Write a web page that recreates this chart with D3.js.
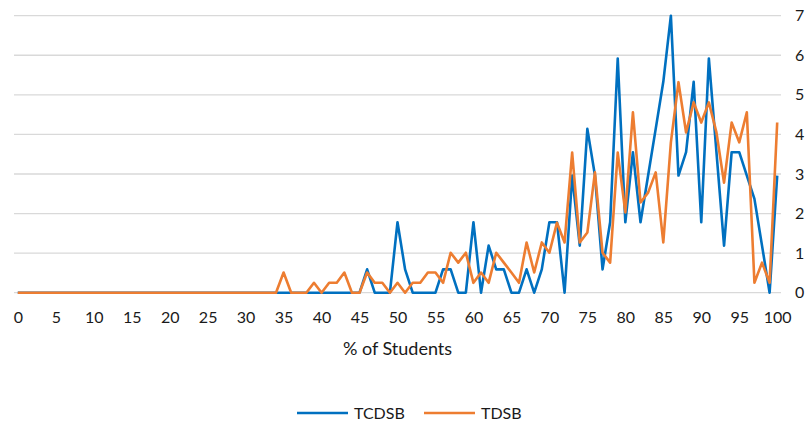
<!DOCTYPE html>
<html>
<head>
<meta charset="utf-8">
<script src="https://cdn.jsdelivr.net/npm/d3@7"></script>
<style>
  body { margin: 0; background: #fff; }
  svg { display: block; font-family: Lato, "Open Sans", sans-serif; }
</style>
</head>
<body>
<div id="chart"></div>
<script>
// categories along the bottom (% of students)
const categories = d3.range(0, 101);
const xTickLabels = [0, 5, 10, 15, 20, 25, 30, 35, 40, 45, 50, 55, 60, 65, 70, 75, 80, 85, 90, 95, 100];
const yTickLabels = [0, 1, 2, 3, 4, 5, 6, 7];

// series values, one per category
const tcdsb = [
  0, 0, 0, 0, 0, 0, 0, 0, 0, 0,
  0, 0, 0, 0, 0, 0, 0, 0, 0, 0,
  0, 0, 0, 0, 0, 0, 0, 0, 0, 0,
  0, 0, 0, 0, 0, 0, 0, 0, 0, 0,
  0, 0, 0, 0, 0, 0, 0.59, 0, 0, 0,
  1.78, 0.59, 0, 0, 0, 0, 0.59, 0.59, 0, 0,
  1.78, 0, 1.19, 0.59, 0.59, 0, 0, 0.59, 0, 0.59,
  1.78, 1.78, 0, 2.96, 1.19, 4.14, 2.96, 0.59, 1.78, 5.92,
  1.78, 3.55, 1.78, 2.96, 4.14, 5.33, 7.0, 2.96, 3.55, 5.33,
  1.78, 5.92, 3.55, 1.19, 3.55, 3.55, 2.96, 2.37, 1.19, 0,
  2.96
];
const tdsb = [
  0, 0, 0, 0, 0, 0, 0, 0, 0, 0,
  0, 0, 0, 0, 0, 0, 0, 0, 0, 0,
  0, 0, 0, 0, 0, 0, 0, 0, 0, 0,
  0, 0, 0, 0, 0, 0.51, 0, 0, 0, 0.25,
  0, 0.25, 0.25, 0.51, 0, 0, 0.51, 0.25, 0.25, 0,
  0.25, 0, 0.25, 0.25, 0.51, 0.51, 0.25, 1.01, 0.76, 1.01,
  0.25, 0.51, 0.25, 1.01, 0.76, 0.51, 0.25, 1.27, 0.51, 1.27,
  1.01, 1.77, 1.27, 3.54, 1.27, 1.52, 3.04, 1.01, 0.76, 3.54,
  2.03, 4.56, 2.28, 2.53, 3.04, 1.27, 3.8, 5.32, 4.05, 4.81,
  4.3, 4.81, 4.05, 2.78, 4.3, 3.8, 4.56, 0.25, 0.76, 0.25,
  4.3
];
const seriesNames = ["TCDSB", "TDSB"];
const seriesColors = ["#0070C0", "#ED7D31"];

const width = 810;
const height = 427;

const svg = d3.select("#chart")
  .append("svg")
  .attr("width", width)
  .attr("height", height);

// plot area (category axis puts each point in the middle of its slot)
const plot = { left: 14, right: 781, top: 15.7, bottom: 292.7 };

const x = d3.scalePoint()
  .domain(categories)
  .range([plot.left, plot.right])
  .padding(0.5);

const y = d3.scaleLinear()
  .domain([0, 7])
  .range([plot.bottom, plot.top]);

// horizontal gridlines
svg.append("g")
  .selectAll("line")
  .data(yTickLabels)
  .join("line")
  .attr("x1", plot.left)
  .attr("x2", plot.right)
  .attr("y1", d => y(d))
  .attr("y2", d => y(d))
  .attr("stroke", "#d9d9d9")
  .attr("stroke-width", 1.3);

// y axis on the right, labels only
const yAxis = d3.axisRight(y)
  .tickValues(yTickLabels)
  .tickFormat(d3.format("d"))
  .tickSize(0)
  .tickPadding(14);

svg.append("g")
  .attr("transform", `translate(${plot.right},0)`)
  .call(yAxis)
  .call(g => g.select(".domain").remove())
  .selectAll("text")
  .attr("font-family", "Lato, 'Open Sans', sans-serif")
  .attr("font-size", 16)
  .attr("fill", "#1a1a1a");

// x axis, label every 5
const xAxis = d3.axisBottom(x)
  .tickValues(xTickLabels)
  .tickSize(0)
  .tickPadding(19);

svg.append("g")
  .attr("transform", `translate(0,${plot.bottom})`)
  .call(xAxis)
  .call(g => g.select(".domain").remove())
  .selectAll("text")
  .attr("font-family", "Lato, 'Open Sans', sans-serif")
  .attr("font-size", 16)
  .attr("fill", "#1a1a1a");

// axis title
svg.append("text")
  .attr("x", (plot.left + plot.right) / 2)
  .attr("y", 355)
  .attr("text-anchor", "middle")
  .attr("font-size", 18)
  .attr("fill", "#1a1a1a")
  .text("% of Students");

// the two lines (orange drawn last, on top)
const line = d3.line()
  .x((d, i) => x(categories[i]))
  .y(d => y(d));

[tcdsb, tdsb].forEach((vals, k) => {
  svg.append("path")
    .datum(vals)
    .attr("fill", "none")
    .attr("stroke", seriesColors[k])
    .attr("stroke-width", 2.6)
    .attr("stroke-linejoin", "round")
    .attr("d", line);
});

// legend
const legendX = [297, 424];
const legend = svg.append("g")
  .selectAll("g")
  .data(seriesNames)
  .join("g")
  .attr("transform", (d, i) => `translate(${legendX[i]},413)`);

legend.append("line")
  .attr("x1", 0)
  .attr("x2", 51)
  .attr("stroke", (d, i) => seriesColors[i])
  .attr("stroke-width", 2.6);

legend.append("text")
  .attr("x", 57)
  .attr("dy", "0.35em")
  .attr("font-size", 16)
  .attr("fill", "#1a1a1a")
  .text(d => d);
</script>
</body>
</html>
